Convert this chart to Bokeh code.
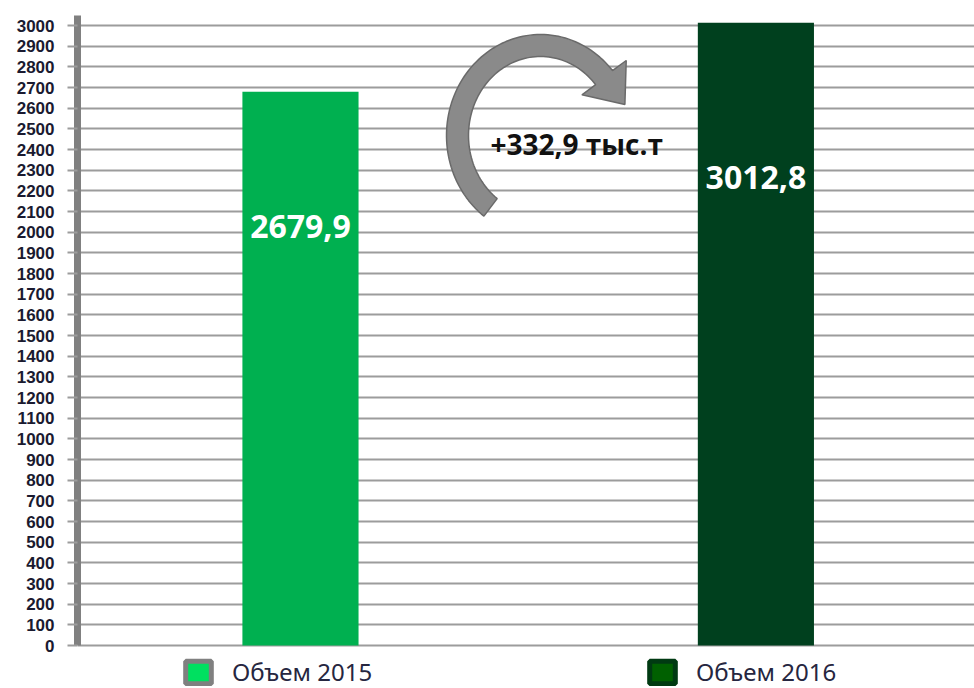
import numpy as np
from bokeh.plotting import figure
from bokeh.models import Range1d, FixedTicker, Legend, LegendItem, ColumnDataSource, Label
from bokeh.core.properties import value
from bokeh.embed import file_html
from bokeh.resources import INLINE

# ---- data ----
categories = ["Объем 2015", "Объем 2016"]
volumes = [2679.9, 3012.8]
y_ticks = list(range(0, 3001, 100))
unit = "тыс.т"

# ---- styles ----
bar_colors = ["#00b050", "#00401e"]
legend_fill = ["#00e060", "#006000"]
legend_line = ["#808080", "#003a12"]
label_offsets = [135, 155]


def fmt(v):
    return f"{v:.1f}".replace(".", ",")


diff = volumes[1] - volumes[0]
note = "+" + fmt(diff) + " " + unit
xpos = [i + 0.5 for i in range(len(categories))]

FRAME_W, FRAME_H = 897, 688

p = figure(x_range=Range1d(0.0104, 1.98), y_range=Range1d(-208, 3121),
           frame_width=FRAME_W, frame_height=FRAME_H,
           min_border_left=77, min_border_right=0, min_border_top=0, min_border_bottom=0,
           output_backend="svg", toolbar_location=None, x_axis_location=None)
p.outline_line_color = None
p.background_fill_color = "white"
p.xgrid.visible = False
p.ygrid.ticker = FixedTicker(ticks=y_ticks)
p.ygrid.grid_line_color = "#9c9c9c"
p.ygrid.grid_line_width = 2

ax = p.yaxis[0]
ax.ticker = FixedTicker(ticks=y_ticks)
ax.bounds = (0, 3050)
ax.axis_line_color = "#808080"
ax.axis_line_width = 7
ax.major_tick_out = 10
ax.major_tick_in = 0
ax.major_tick_line_color = "#9c9c9c"
ax.major_tick_line_width = 2
ax.minor_tick_line_color = None
ax.major_label_text_font = "Liberation Sans"
ax.major_label_text_font_style = "bold"
ax.major_label_text_font_size = "17px"
ax.major_label_text_color = "#1a1a30"
ax.major_label_standoff = 13

src = ColumnDataSource(dict(x=xpos, cat=categories, vol=volumes, color=bar_colors,
                            label=[fmt(v) for v in volumes], off=label_offsets))
p.vbar(x="x", top="vol", width=0.255, fill_color="color", line_color=None, source=src)
p.text(x="x", y="vol", text="label", y_offset="off", source=src,
       text_align="center", text_baseline="middle", text_color="white",
       text_font=value("Open Sans"), text_font_style="bold", text_font_size="32px")

# ---- curved arrow (decoration, frame pixel coordinates) ----
p.extra_x_ranges = {"px": Range1d(0, FRAME_W)}
p.extra_y_ranges = {"py": Range1d(FRAME_H, 0)}
cx, cy, rx, ry, hw = 463, 135, 83, 90, 11
th = np.radians(np.linspace(233, 40, 90))
ox = cx + (rx + hw) * np.cos(th)
oy = cy - (ry + hw) * np.sin(th)
ix = cx + (rx - hw) * np.cos(th)
iy = cy - (ry - hw) * np.sin(th)
te = th[-1]
P = np.array([cx + rx * np.cos(te), cy - ry * np.sin(te)])
d = np.array([rx * np.sin(te), ry * np.cos(te)])
d = d / np.linalg.norm(d)
n = np.array([d[1], -d[0]])
b1 = P + 28 * n
b2 = P - 28 * n
tip = P + 34 * d
xs = list(ox) + [b1[0], tip[0], b2[0]] + list(ix[::-1])
ys = list(oy) + [b1[1], tip[1], b2[1]] + list(iy[::-1])
p.patch(xs, ys, x_range_name="px", y_range_name="py",
        fill_color="#8a8a8a", line_color="#6a6a6a", line_width=1.5)

p.add_layout(Label(x=413, y=143, x_range_name="px", y_range_name="py", text=note,
                   text_baseline="middle", text_align="left", text_color="#111111",
                   text_font="Open Sans", text_font_style="bold", text_font_size="28px"))

# ---- legend (swatch renderers carry no drawable point) ----
r1 = p.vbar(x=[np.nan], top=[np.nan], width=0.2, fill_color=legend_fill[0],
            line_color=legend_line[0], line_width=5)
r2 = p.vbar(x=[np.nan], top=[np.nan], width=0.2, fill_color=legend_fill[1],
            line_color=legend_line[1], line_width=5)
legend = Legend(items=[LegendItem(label=categories[0], renderers=[r1], index=0),
                       LegendItem(label=categories[1], renderers=[r2], index=0)],
                orientation="horizontal", location=(105, 0), spacing=282,
                glyph_width=32, glyph_height=28, label_width=150, label_standoff=18,
                padding=0, margin=0, border_line_color=None, background_fill_alpha=0,
                label_text_font="Noto Sans", label_text_font_size="24px",
                label_text_color="#262640")
legend.spacing = 646 - 182 - (32 + 18 + 150)
p.add_layout(legend, "center")

open("out.html", "w").write(file_html(p, INLINE))
